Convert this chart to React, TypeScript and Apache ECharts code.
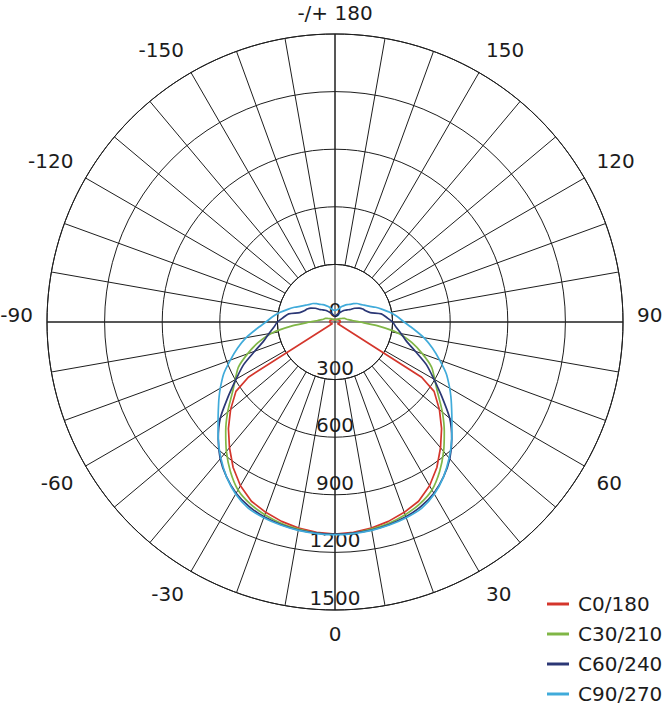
import React, { useEffect, useRef } from "react";
import * as echarts from "echarts";

// Gamma angles (deg) of one half-plane; mirrored to the other half
const ANGLES = [0, 5, 10, 15, 20, 25, 30, 35, 40, 45, 50, 55, 57.5, 60, 65, 70, 75, 80, 85, 90, 95, 100, 105, 110, 115, 120, 125, 130, 135, 140, 145, 150, 155, 160, 165, 170, 175, 180];

// Luminous intensity (cd/klm) per C-plane
const C0_180 = [1105, 1100, 1090, 1075, 1055, 1030, 985, 925, 855, 785, 710, 630, 535, 15, 18, 20, 22, 25, 27, 28, 28, 27, 26, 25, 24, 22, 20, 19, 18, 17, 16, 15, 14, 13, 12, 12, 11, 11];
const C30_210 = [1105, 1103, 1095, 1085, 1068, 1045, 1010, 950, 880, 805, 730, 655, 625, 600, 555, 485, 415, 335, 220, 130, 90, 70, 60, 54, 45, 35, 30, 25, 22, 20, 18, 16, 14, 12, 11, 10, 10, 10];
const C60_240 = [1105, 1103, 1100, 1092, 1080, 1060, 1030, 985, 930, 860, 780, 680, 635, 595, 525, 445, 385, 350, 320, 300, 270, 245, 190, 170, 160, 145, 125, 100, 90, 80, 70, 60, 52, 45, 40, 35, 32, 30];
const C90_270 = [1108, 1106, 1102, 1095, 1085, 1070, 1035, 985, 925, 860, 795, 740, 715, 690, 640, 580, 525, 470, 410, 360, 325, 290, 255, 225, 195, 175, 160, 150, 135, 120, 110, 100, 90, 80, 70, 65, 62, 60];

const SERIES_NAMES = ["C0/180", "C30/210", "C60/240", "C90/270"];
const SERIES_VALUES = [C0_180, C30_210, C60_240, C90_270];
const SERIES_COLORS = ["#d4362c", "#80b646", "#2b3775", "#40abda"];
const SERIES_SMOOTH = [0, 0.25, 0.25, 0.25];

const RADIAL_MAX = 1500;
const RADIAL_STEP = 300;

const FONT = "DejaVu Sans";
const TEXT_COLOR = "#1c1c1c";
const GRID_COLOR = "#1e1e1e";

function buildData(values: number[]) {
  const pts: [number, number][] = [];
  for (let i = ANGLES.length - 1; i >= 0; i--) {
    pts.push([values[i], 360 - ANGLES[i]]);
  }
  for (let i = 1; i < ANGLES.length; i++) {
    pts.push([values[i], ANGLES[i]]);
  }
  return pts;
}

function angleLabel(v: number): string {
  if (v === 360) return "";
  if (v % 30 !== 0) return "";
  if (v === 180) return "{t|-/+ 180}";
  if (v === 90 || v === 270) return "{m|" + (v > 180 ? v - 360 : v) + "}";
  return String(v > 180 ? v - 360 : v);
}

export default function App() {
  const ref = useRef<HTMLDivElement>(null);
  useEffect(() => {
    document.body.style.margin = "0";
    const chart = echarts.init(ref.current!, null, { renderer: "svg" });
    const center = [335, 322];
    const outer = 288;
    const inner = outer * RADIAL_STEP / RADIAL_MAX;
    const option: any = {
      animation: false,
      backgroundColor: "#ffffff",
      polar: [
        { center, radius: [0, outer] },
        { center, radius: [inner, outer] },
      ],
      angleAxis: [
        {
          polarIndex: 0,
          type: "value",
          min: 0,
          max: 360,
          interval: 90,
          startAngle: 270,
          clockwise: false,
          axisLine: { show: false },
          axisTick: { show: false },
          axisLabel: { show: false },
          splitLine: { show: true, lineStyle: { color: GRID_COLOR, width: 1 } },
          z: 1,
        },
        {
          polarIndex: 1,
          type: "value",
          min: 0,
          max: 360,
          interval: 10,
          startAngle: 270,
          clockwise: false,
          axisLine: { show: true, lineStyle: { color: GRID_COLOR, width: 1 } },
          axisTick: { show: false },
          axisLabel: {
            show: true,
            margin: 14,
            fontFamily: FONT,
            fontSize: 20,
            color: TEXT_COLOR,
            formatter: angleLabel,
            rich: {
              m: { fontFamily: FONT, fontSize: 20, color: TEXT_COLOR, padding: [0, 0, 14, 0] },
              t: { fontFamily: FONT, fontSize: 20, color: TEXT_COLOR, lineHeight: 14 },
            },
          },
          splitLine: { show: true, lineStyle: { color: GRID_COLOR, width: 1 } },
          z: 1,
        },
      ],
      radiusAxis: [
        {
          polarIndex: 0,
          type: "value",
          min: 0,
          max: RADIAL_MAX,
          interval: RADIAL_STEP,
          axisLine: { show: false },
          axisTick: { show: false },
          axisLabel: {
            show: true,
            margin: 0,
            align: "center",
            verticalAlign: "bottom",
            padding: [0, 0, 2, 0],
            fontFamily: FONT,
            fontSize: 20,
            color: TEXT_COLOR,
            showMinLabel: true,
            showMaxLabel: true,
            formatter: (v: number) => String(v),
          },
          splitLine: { show: true, lineStyle: { color: GRID_COLOR, width: 1 } },
          z: 1,
        },
        {
          polarIndex: 1,
          type: "value",
          min: 0,
          max: 1,
          axisLine: { show: false },
          axisTick: { show: false },
          axisLabel: { show: false },
          splitLine: { show: false },
        },
      ],
      legend: {
        orient: "vertical",
        left: 547,
        top: 594,
        padding: 0,
        itemWidth: 22,
        itemHeight: 3,
        itemGap: 10,
        icon: "rect",
        data: SERIES_NAMES,
        textStyle: { fontFamily: FONT, fontSize: 20, color: TEXT_COLOR, padding: [0, 0, 0, 4] },
      },
      series: SERIES_NAMES.map((name, i) => ({
        name,
        type: "line",
        coordinateSystem: "polar",
        polarIndex: 0,
        data: buildData(SERIES_VALUES[i]),
        showSymbol: false,
        symbol: "none",
        smooth: SERIES_SMOOTH[i],
        clip: false,
        color: SERIES_COLORS[i],
        lineStyle: { color: SERIES_COLORS[i], width: 1.7 },
        z: 3,
      })),
    };
    chart.setOption(option);
    return () => chart.dispose();
  }, []);
  return <div ref={ref} style={{ width: 671, height: 720 }} />;
}
